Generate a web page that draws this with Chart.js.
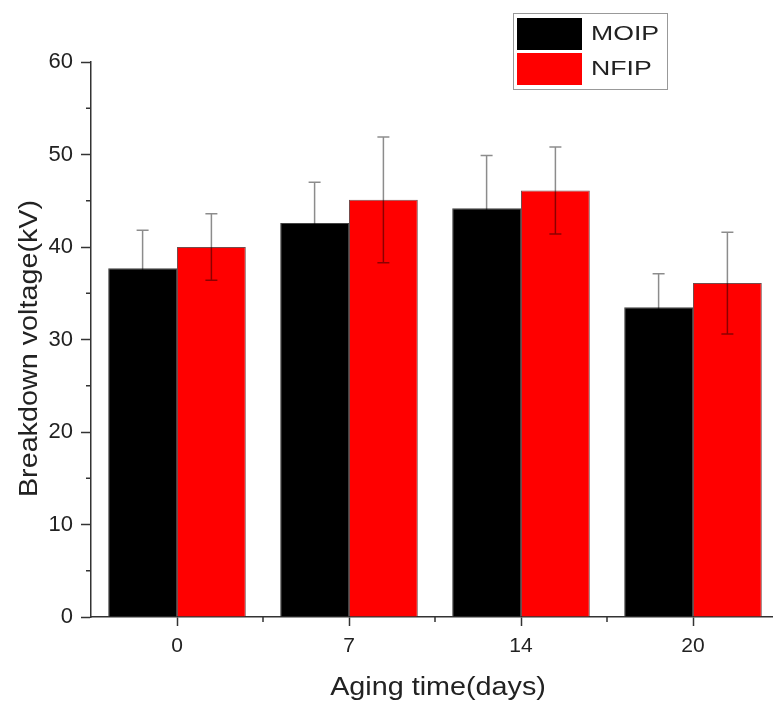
<!DOCTYPE html>
<html>
<head>
<meta charset="utf-8">
<script src="https://cdn.jsdelivr.net/npm/chart.js@4.4.1/dist/chart.umd.min.js"></script>
<style>
  html, body { margin: 0; padding: 0; background: #fff; overflow: hidden; }
  #wrap { width: 800px; height: 702px; }
</style>
</head>
<body>
<div id="wrap"><canvas id="barChart" width="800" height="702"></canvas></div>
<script>
// data
const days = ['0', '7', '14', '20'];
const moip = [37.7, 42.6, 44.2, 33.5];
const moipErr = [4.1, 4.4, 5.7, 3.6];
const nfip = [40.0, 45.1, 46.1, 36.1];
const nfipErr = [3.6, 6.8, 4.7, 5.5];
const errors = [moipErr, nfipErr];

const axisColor = '#333';
const fontFam = '"Liberation Sans", Arial, sans-serif';

// error bars drawn on top of each bar
const errorBars = {
    id: 'errorBars',
    afterDatasetsDraw(chart) {
        const ctx = chart.ctx;
        const y = chart.scales.y;
        ctx.save();
        ctx.strokeStyle = 'rgba(0,0,0,0.45)';
        ctx.lineWidth = 1.5;
        chart.data.datasets.forEach((ds, di) => {
            const meta = chart.getDatasetMeta(di);
            meta.data.forEach((bar, i) => {
                const v = ds.data[i], e = errors[di][i];
                const top = y.getPixelForValue(v + e);
                const bot = y.getPixelForValue(v - e);
                const x = bar.x;
                ctx.beginPath();
                ctx.moveTo(x, top); ctx.lineTo(x, bot);
                ctx.moveTo(x - 6, top); ctx.lineTo(x + 6, top);
                ctx.moveTo(x - 6, bot); ctx.lineTo(x + 6, bot);
                ctx.stroke();
            });
        });
        ctx.restore();
    }
};

// minor ticks on both axes
const minorTicks = {
    id: 'minorTicks',
    afterDraw(chart) {
        const ctx = chart.ctx;
        const {x, y} = chart.scales;
        const area = chart.chartArea;
        ctx.save();
        ctx.strokeStyle = axisColor;
        ctx.lineWidth = 1.5;
        ctx.beginPath();
        for (let v = 5; v < 60; v += 10) {
            const py = y.getPixelForValue(v);
            ctx.moveTo(area.left - 5, py); ctx.lineTo(area.left, py);
        }
        for (let i = 0; i < days.length - 1; i++) {
            const px = (x.getPixelForValue(i) + x.getPixelForValue(i + 1)) / 2;
            ctx.moveTo(px, area.bottom); ctx.lineTo(px, area.bottom + 5);
        }
        ctx.stroke();
        ctx.restore();
    }
};

// axis titles, the source font runs a bit wide so stretch it
const axisTitles = {
    id: 'axisTitles',
    afterDraw(chart) {
        const ctx = chart.ctx;
        const area = chart.chartArea;
        ctx.save();
        ctx.fillStyle = '#222';
        ctx.font = '25px ' + fontFam;
        ctx.textAlign = 'center';
        ctx.textBaseline = 'alphabetic';
        ctx.save();
        ctx.translate((area.left + area.right) / 2 + 3, 695);
        ctx.scale(1.15, 1);
        ctx.fillText('Aging time(days)', 0, 0);
        ctx.restore();
        ctx.save();
        ctx.translate(37, (area.top + area.bottom) / 2 + 9);
        ctx.rotate(-Math.PI / 2);
        ctx.scale(1.15, 1);
        ctx.fillText('Breakdown voltage(kV)', 0, 0);
        ctx.restore();
        ctx.restore();
    }
};

// boxed legend at the top right
const boxLegend = {
    id: 'boxLegend',
    afterDraw(chart) {
        const ctx = chart.ctx;
        ctx.save();
        ctx.strokeStyle = '#999';
        ctx.lineWidth = 1;
        ctx.strokeRect(513.5, 13.5, 154, 76);
        ctx.font = '21px ' + fontFam;
        ctx.textBaseline = 'alphabetic';
        chart.data.datasets.forEach((ds, i) => {
            const top = 18 + i * 35;
            ctx.fillStyle = ds.backgroundColor;
            ctx.fillRect(517, top, 65, 32);
            ctx.fillStyle = '#222';
            ctx.save();
            ctx.translate(591, top + 22);
            ctx.scale(1.27, 1);
            ctx.fillText(ds.label, 0, 0);
            ctx.restore();
        });
        ctx.restore();
    }
};

const ctx = document.getElementById('barChart').getContext('2d');
new Chart(ctx, {
    type: 'bar',
    data: {
        labels: days,
        datasets: [
            { label: 'MOIP', data: moip, backgroundColor: '#000000', borderColor: '#444', borderWidth: 1 },
            { label: 'NFIP', data: nfip, backgroundColor: '#ff0000', borderColor: 'rgba(60,0,0,0.7)', borderWidth: 1 }
        ]
    },
    options: {
        responsive: false,
        animation: false,
        categoryPercentage: 0.8,
        barPercentage: 1.0,
        layout: { padding: { top: 62, right: 21, left: 0, bottom: 0 } },
        plugins: {
            legend: { display: false },
            tooltip: { enabled: false }
        },
        scales: {
            x: {
                afterFit(scale) { scale.height = 85; },
                grid: {
                    offset: false,
                    drawOnChartArea: false,
                    drawTicks: true,
                    tickLength: 9,
                    tickColor: axisColor,
                    tickWidth: 1.5
                },
                border: { display: true, color: axisColor, width: 1.5 },
                ticks: {
                    color: '#222',
                    padding: 8,
                    font: { family: fontFam, size: 21 }
                }
            },
            y: {
                min: 0,
                max: 60,
                afterFit(scale) { scale.width = 91; },
                grid: {
                    drawOnChartArea: false,
                    drawTicks: true,
                    tickLength: 10,
                    tickColor: axisColor,
                    tickWidth: 1.5
                },
                border: { display: true, color: axisColor, width: 1.5 },
                ticks: {
                    stepSize: 10,
                    color: '#222',
                    padding: 8,
                    font: { family: fontFam, size: 22 }
                }
            }
        }
    },
    plugins: [errorBars, minorTicks, axisTitles, boxLegend]
});
</script>
</body>
</html>
